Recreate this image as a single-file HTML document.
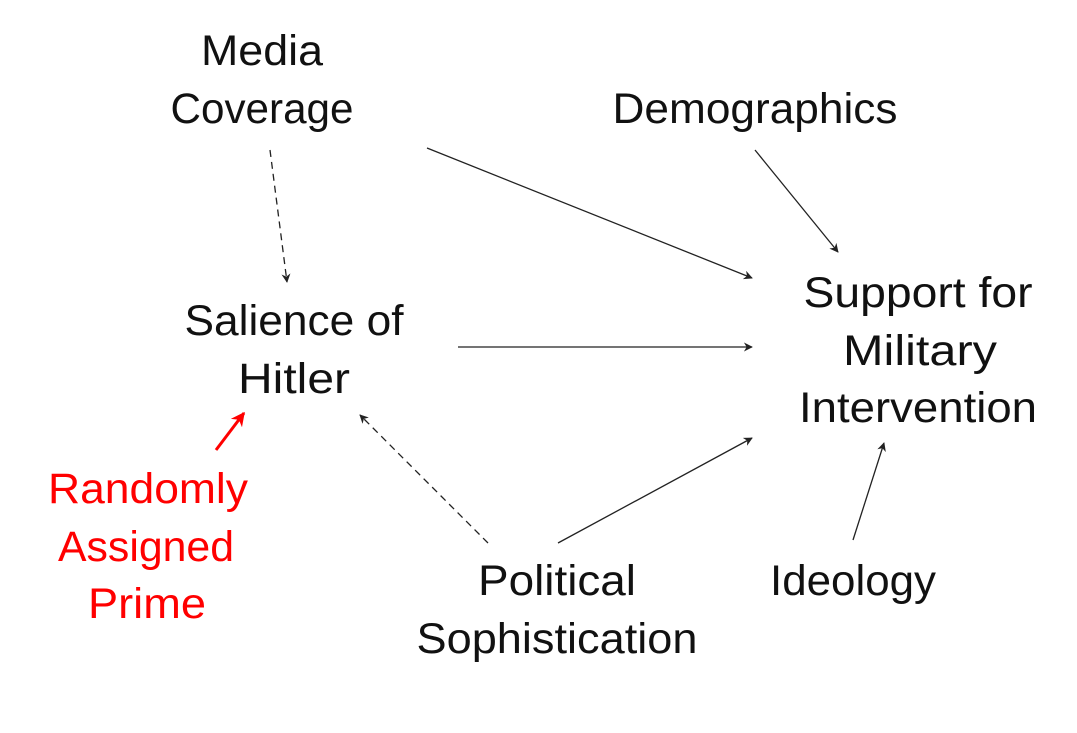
<!DOCTYPE html>
<html><head><meta charset="utf-8"><style>html,body{margin:0;padding:0;background:#fff;}svg{display:block}</style></head>
<body>
<svg width="1077" height="733" viewBox="0 0 1077 733" xmlns="http://www.w3.org/2000/svg">
<defs>
<marker id="a" viewBox="0 0 10 10" refX="9" refY="5" markerWidth="9" markerHeight="9" markerUnits="userSpaceOnUse" orient="auto"><path d="M0,0 L10,5 L0,10 L3,5 z" fill="#222"/></marker>
<marker id="r" viewBox="0 0 10 10" refX="9" refY="5" markerWidth="14" markerHeight="14" markerUnits="userSpaceOnUse" orient="auto"><path d="M0,0 L10,5 L0,10 L3,5 z" fill="#f00"/></marker>
</defs>
<g font-family="Liberation Sans, sans-serif" font-size="43" text-anchor="middle" fill="#111">
<text x="262" y="65" textLength="122" lengthAdjust="spacingAndGlyphs">Media</text>
<text x="262" y="123" textLength="183" lengthAdjust="spacingAndGlyphs">Coverage</text>
<text x="755" y="123" textLength="285" lengthAdjust="spacingAndGlyphs">Demographics</text>
<text x="294" y="335" textLength="219" lengthAdjust="spacingAndGlyphs">Salience of</text>
<text x="294" y="393" textLength="112" lengthAdjust="spacingAndGlyphs">Hitler</text>
<text x="918" y="307" textLength="229" lengthAdjust="spacingAndGlyphs">Support for</text>
<text x="920" y="365" textLength="154" lengthAdjust="spacingAndGlyphs">Military</text>
<text x="918" y="422" textLength="238" lengthAdjust="spacingAndGlyphs">Intervention</text>
<text x="557" y="595" textLength="158" lengthAdjust="spacingAndGlyphs">Political</text>
<text x="557" y="653" textLength="281" lengthAdjust="spacingAndGlyphs">Sophistication</text>
<text x="853" y="595" textLength="166" lengthAdjust="spacingAndGlyphs">Ideology</text>
<g fill="#f00">
<text x="148" y="503" textLength="200" lengthAdjust="spacingAndGlyphs">Randomly</text>
<text x="146" y="561" textLength="176" lengthAdjust="spacingAndGlyphs">Assigned</text>
<text x="147" y="618" textLength="118" lengthAdjust="spacingAndGlyphs">Prime</text>
</g>
</g>
<g stroke="#222" stroke-width="1.3" fill="none">
<line x1="270" y1="150" x2="287" y2="282" stroke-dasharray="7,5" marker-end="url(#a)"/>
<line x1="427" y1="148" x2="752" y2="278" marker-end="url(#a)"/>
<line x1="755" y1="150" x2="838" y2="252" marker-end="url(#a)"/>
<line x1="458" y1="347" x2="752" y2="347" marker-end="url(#a)"/>
<line x1="488" y1="543" x2="360" y2="415" stroke-dasharray="7,5" marker-end="url(#a)"/>
<line x1="558" y1="543" x2="752" y2="438" marker-end="url(#a)"/>
<line x1="853" y1="540" x2="884" y2="443" marker-end="url(#a)"/>
</g>
<line x1="216" y1="450" x2="244" y2="413" stroke="#f00" stroke-width="3" marker-end="url(#r)"/>
</svg>
</body></html>
